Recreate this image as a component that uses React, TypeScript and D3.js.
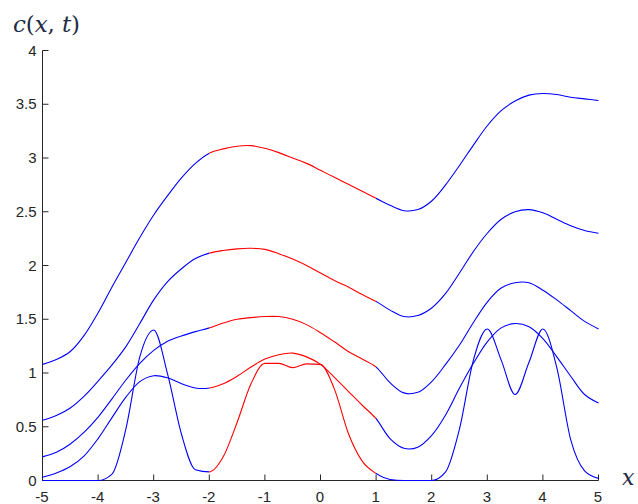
import React from "react";
import * as d3 from "d3";

const xs = [
  -5, -4.75, -4.5, -4.25, -4, -3.75, -3.5, -3.25, -3, -2.75, -2.5, -2.25, -2, -1.75, -1.5, -1.25,
  -1, -0.75, -0.5, -0.25, 0, 0.25, 0.5, 0.75, 1, 1.25, 1.5, 1.75, 2, 2.25, 2.5, 2.75, 3, 3.25,
  3.5, 3.75, 4, 4.25, 4.5, 4.75, 5,
];

const curveA = [
  1.08, 1.125, 1.2, 1.35, 1.56, 1.8, 2.03, 2.26, 2.47, 2.65, 2.815, 2.95, 3.045, 3.085, 3.11, 3.115,
  3.09, 3.05, 3.0, 2.95, 2.885, 2.82, 2.755, 2.69, 2.625, 2.56, 2.51, 2.52, 2.6, 2.75, 2.93, 3.12,
  3.3, 3.44, 3.53, 3.585, 3.6, 3.59, 3.565, 3.55, 3.535,
];
const curveB = [
  0.56, 0.605, 0.675, 0.785, 0.925, 1.075, 1.245, 1.46, 1.68, 1.85, 1.97, 2.065, 2.115, 2.14, 2.155, 2.16,
  2.15, 2.11, 2.06, 2.0, 1.93, 1.86, 1.8, 1.73, 1.665, 1.585, 1.525, 1.535, 1.605, 1.74, 1.93, 2.13,
  2.3, 2.43, 2.5, 2.52, 2.49, 2.43, 2.37, 2.325, 2.3,
];
const curveC = [
  0.22, 0.262, 0.34, 0.45, 0.59, 0.76, 0.935, 1.09, 1.21, 1.295, 1.345, 1.385, 1.42, 1.465, 1.5, 1.515,
  1.525, 1.525, 1.5, 1.45, 1.375, 1.29, 1.2, 1.13, 1.055, 0.91, 0.815, 0.82, 0.92, 1.08, 1.26, 1.47,
  1.66, 1.79, 1.84, 1.84, 1.77, 1.68, 1.58, 1.48, 1.41,
];
const curveD = [
  0.03, 0.07, 0.13, 0.23, 0.39, 0.585, 0.775, 0.92, 0.975, 0.955, 0.9, 0.86, 0.86, 0.9, 0.97, 1.055,
  1.13, 1.17, 1.185, 1.15, 1.08, 0.96, 0.83, 0.7, 0.575, 0.39, 0.3, 0.31, 0.42, 0.61, 0.86, 1.09,
  1.29, 1.42, 1.46, 1.43, 1.32, 1.15, 0.97, 0.8, 0.72,
];
const curveE = [
  0, 0, 0, 0, 0, 0.06, 0.48, 1.15, 1.4, 0.99, 0.43, 0.1, 0.08, 0.22, 0.54, 0.9,
  1.09, 1.09, 1.05, 1.085, 1.08, 0.85, 0.44, 0.18, 0.065, 0.01, 0, 0, 0, 0.08, 0.48, 1.12,
  1.41, 1.12, 0.8, 1.1, 1.41, 1.05, 0.38, 0.09, 0.02,
];

const curves = [curveA, curveB, curveC, curveD, curveE];
const redRange = [-2, 1];
const xTicks = [-5, -4, -3, -2, -1, 0, 1, 2, 3, 4, 5];
const yTicks = [0, 0.5, 1, 1.5, 2, 2.5, 3, 3.5, 4];

const W = 638;
const H = 504;

export default function App() {
  const x = d3.scaleLinear().domain([-5, 5]).range([42.5, 598.5]);
  const y = d3.scaleLinear().domain([0, 4]).range([480.5, 50.5]);
  const makeLine = (curve: any) =>
    d3
      .line<number>()
      .x((_, i) => x(xs[i]))
      .y((d) => y(d))
      .curve(curve);
  const smooth = makeLine(d3.curveCatmullRom.alpha(0.5));
  const mono = makeLine(d3.curveMonotoneX);

  const axisColor = "#262626";
  const font = "'Liberation Sans', Arial, sans-serif";

  return (
    <svg
      width={W}
      height={H}
      style={{ position: "absolute", left: 0, top: 0, background: "#fff" }}
    >
      <defs>
        <clipPath id="clipLeft">
          <rect x={0} y={0} width={x(redRange[0])} height={H} />
        </clipPath>
        <clipPath id="clipMid">
          <rect x={x(redRange[0])} y={0} width={x(redRange[1]) - x(redRange[0])} height={H} />
        </clipPath>
        <clipPath id="clipRight">
          <rect x={x(redRange[1])} y={0} width={W - x(redRange[1])} height={H} />
        </clipPath>
      </defs>
      <rect width={W} height={H} fill="#fff" />

      {/* axes */}
      <line x1={x(-5)} x2={x(-5)} y1={y(4)} y2={y(0)} stroke={axisColor} strokeWidth={1} />
      <line x1={x(-5)} x2={x(5)} y1={y(0)} y2={y(0)} stroke={axisColor} strokeWidth={1} />
      {yTicks.map((t) => (
        <g key={"y" + t}>
          <line x1={x(-5)} x2={x(-5) + 6} y1={y(t)} y2={y(t)} stroke={axisColor} />
          <text
            x={x(-5) - 6}
            y={y(t) + 5}
            textAnchor="end"
            fontFamily={font}
            fontSize={15}
            fill={axisColor}
          >
            {String(t)}
          </text>
        </g>
      ))}
      {xTicks.map((t) => (
        <g key={"x" + t}>
          <line x1={x(t)} x2={x(t)} y1={y(0)} y2={y(0) - 6} stroke={axisColor} />
          <text
            x={x(t) - 0.5}
            y={502}
            textAnchor="middle"
            fontFamily={font}
            fontSize={15}
            fill={axisColor}
          >
            {String(t)}
          </text>
        </g>
      ))}

      {/* curves */}
      {curves.map((c, i) => {
        const gen = i === curves.length - 1 ? mono : smooth;
        const d = gen(c) || "";
        return (
          <g key={"c" + i} fill="none" strokeWidth={1.1}>
            <path d={d} stroke="#0000ff" clipPath="url(#clipLeft)" />
            <path d={d} stroke="#ff0000" clipPath="url(#clipMid)" />
            <path d={d} stroke="#0000ff" clipPath="url(#clipRight)" />
          </g>
        );
      })}

      {/* titles */}
      <text
        x={13}
        y={32}
        fontFamily="'DejaVu Serif', 'Liberation Serif', serif"
        fontSize={23}
        fill="#1e2a44"
        textLength={67}
        lengthAdjust="spacing"
      >
        <tspan fontStyle="italic">c</tspan>
        <tspan>(</tspan>
        <tspan fontStyle="italic">x</tspan>
        <tspan>, </tspan>
        <tspan fontStyle="italic">t</tspan>
        <tspan>)</tspan>
      </text>
      <text
        x={622}
        y={485}
        fontFamily="'DejaVu Serif', 'Liberation Serif', serif"
        fontSize={22}
        fontStyle="italic"
        fill="#1e2a44"
      >
        x
      </text>
    </svg>
  );
}
